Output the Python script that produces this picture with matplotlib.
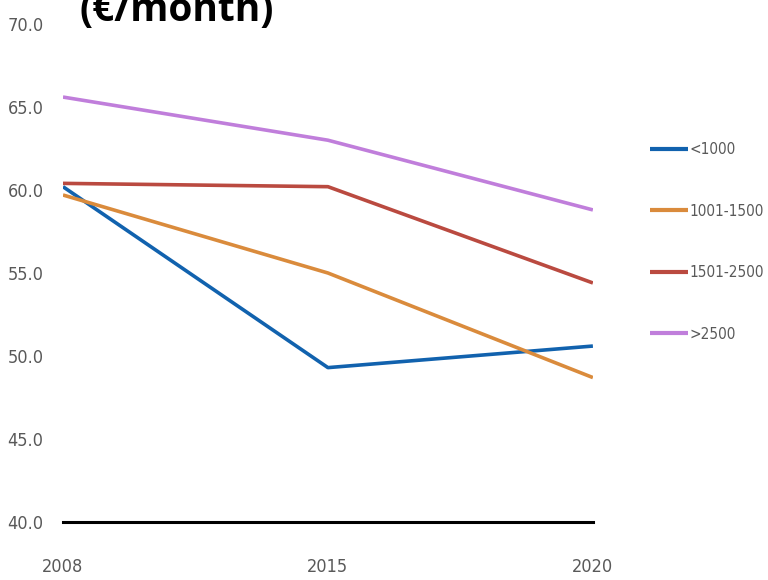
import matplotlib
matplotlib.use("Agg")
import matplotlib.pyplot as plt

years = ["2008", "2015", "2020"]
income_groups = ["<1000", "1001-1500", "1501-2500", ">2500"]
values = {
    "<1000": [60.2, 49.3, 50.6],
    "1001-1500": [59.7, 55.0, 48.7],
    "1501-2500": [60.4, 60.2, 54.4],
    ">2500": [65.6, 63.0, 58.8],
}
colors = ["#1162AE", "#DA8B3C", "#BA4A40", "#C07EDB"]
yticks = [40, 45, 50, 55, 60, 65, 70]

# narrow face for the axis labels
plt.rcParams["font.family"] = ["DejaVu Sans"]
plt.rcParams["font.stretch"] = "condensed"

fig = plt.figure(figsize=(7.68, 5.8), dpi=100)
ax = fig.add_axes([0.082, 0.1, 0.690, 0.8586])

x = range(len(years))
for grp, col in zip(income_groups, colors):
    ax.plot(x, values[grp], color=col, linewidth=2.6, label=grp,
            solid_capstyle="butt")

ax.set_xlim(0, len(years) - 1)
ax.set_ylim(40, 70)
ax.set_xticks(list(x))
ax.set_xticklabels(years)
ax.set_yticks(yticks)
ax.set_yticklabels([f"{v:.1f}" for v in yticks])

for side in ["top", "right", "left"]:
    ax.spines[side].set_visible(False)
ax.spines["bottom"].set_color("black")
ax.spines["bottom"].set_linewidth(2.2)
ax.tick_params(axis="both", length=0, labelsize=13, labelcolor="#595959")
ax.tick_params(axis="y", pad=14)
ax.tick_params(axis="x", pad=26)

leg = fig.legend(loc="upper left", bbox_to_anchor=(0.828, 0.779),
                 frameon=False, handlelength=2.5, handletextpad=0.1,
                 labelspacing=3.05, fontsize=11)
for t in leg.get_texts():
    t.set_color("#595959")
for h in leg.get_lines():
    h.set_linewidth(3)

fig.text(0.104, 0.963, "(€/month)", fontsize=28, fontweight="bold",
         family="Open Sans", stretch="normal", color="black", va="baseline")

fig.savefig("out.png", dpi=100)
